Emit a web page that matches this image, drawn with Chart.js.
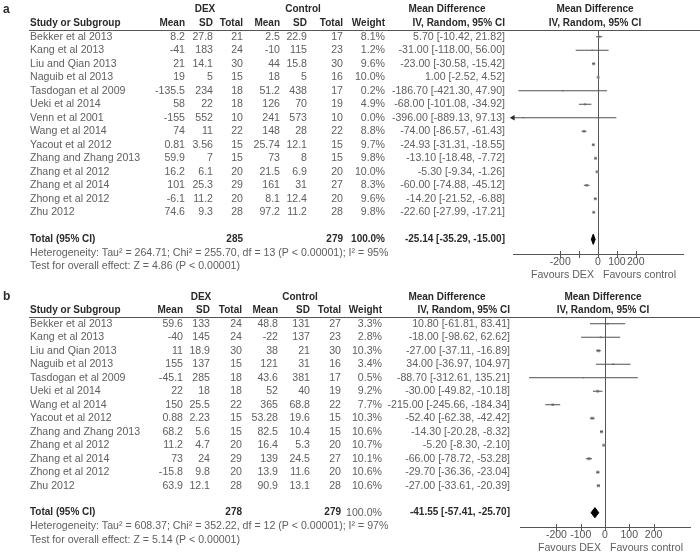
<!DOCTYPE html>
<html>
<head>
<meta charset="utf-8">
<title>Forest plots</title>
<script src="https://cdn.jsdelivr.net/npm/chart.js@4.4.1/dist/chart.umd.min.js"></script>
<style>
  html, body { margin: 0; padding: 0; background: #fff; }
  #wrap { position: relative; width: 700px; height: 554px; }
  canvas { position: absolute; left: 0; }
  #panel-a { top: 0; }
  #panel-b { top: 280px; }
</style>
</head>
<body>
<div id="wrap">
  <canvas id="panel-a" width="700" height="280"></canvas>
  <canvas id="panel-b" width="700" height="274"></canvas>
</div>
<script>
// Panel a data
const studiesA = ['Bekker et al 2013', 'Kang et al 2013', 'Liu and Qian 2013', 'Naguib et al 2013', 'Tasdogan et al 2009', 'Ueki et al 2014', 'Venn et al 2001', 'Wang et al 2014', 'Yacout et al 2012', 'Zhang and Zhang 2013', 'Zhang et al 2012', 'Zhang et al 2014', 'Zhong et al 2012', 'Zhu 2012'];
const dexMeanA = [8.2, -41, 21, 19, -135.5, 58, -155, 74, 0.81, 59.9, 16.2, 101, -6.1, 74.6];
const dexSdA = [27.8, 183, 14.1, 5, 234, 22, 552, 11, 3.56, 7, 6.1, 25.3, 11.2, 9.3];
const dexNA = [21, 24, 30, 15, 18, 18, 10, 22, 15, 15, 20, 29, 20, 28];
const ctlMeanA = [2.5, -10, 44, 18, 51.2, 126, 241, 148, 25.74, 73, 21.5, 161, 8.1, 97.2];
const ctlSdA = [22.9, 115, 15.8, 5, 438, 70, 573, 28, 12.1, 8, 6.9, 31, 12.4, 11.2];
const ctlNA = [17, 23, 30, 16, 17, 19, 10, 22, 15, 15, 20, 27, 20, 28];
const weightA = [8.1, 1.2, 9.6, 10.0, 0.2, 4.9, 0.0, 8.8, 9.7, 9.8, 10.0, 8.3, 9.6, 9.8];
const mdA = [5.70, -31.00, -23.00, 1.00, -186.70, -68.00, -396.00, -74.00, -24.93, -13.10, -5.30, -60.00, -14.20, -22.60];
const loA = [-10.42, -118.00, -30.58, -2.52, -421.30, -101.08, -889.13, -86.57, -31.31, -18.48, -9.34, -74.88, -21.52, -27.99];
const hiA = [21.82, 56.00, -15.42, 4.52, 47.90, -34.92, 97.13, -61.43, -18.55, -7.72, -1.26, -45.12, -6.88, -17.21];
const totalNA = [285, 279];
const totalEffectA = [-25.14, -35.29, -15.00];
const hetA = 'Heterogeneity: Tau\u00b2 = 264.71; Chi\u00b2 = 255.70, df = 13 (P < 0.00001); I\u00b2 = 95%';
const testA = 'Test for overall effect: Z = 4.86 (P < 0.00001)';
const tickValuesA = [-200, -100, 0, 100, 200];
const tickLabelsA = ['-200', '', '0', '100', '200'];

// Panel b data
const studiesB = ['Bekker et al 2013', 'Kang et al 2013', 'Liu and Qian 2013', 'Naguib et al 2013', 'Tasdogan et al 2009', 'Ueki et al 2014', 'Wang et al 2014', 'Yacout et al 2012', 'Zhang and Zhang 2013', 'Zhang et al 2012', 'Zhang et al 2014', 'Zhong et al 2012', 'Zhu 2012'];
const dexMeanB = [59.6, -40, 11, 155, -45.1, 22, 150, 0.88, 68.2, 11.2, 73, -15.8, 63.9];
const dexSdB = [133, 145, 18.9, 137, 285, 18, 25.5, 2.23, 5.6, 4.7, 24, 9.8, 12.1];
const dexNB = [24, 24, 30, 15, 18, 18, 22, 15, 15, 20, 29, 20, 28];
const ctlMeanB = [48.8, -22, 38, 121, 43.6, 52, 365, 53.28, 82.5, 16.4, 139, 13.9, 90.9];
const ctlSdB = [131, 137, 21, 31, 381, 40, 68.8, 19.6, 10.4, 5.3, 24.5, 11.6, 13.1];
const ctlNB = [27, 23, 30, 16, 17, 19, 22, 15, 15, 20, 27, 20, 28];
const weightB = [3.3, 2.8, 10.3, 3.4, 0.5, 9.2, 7.7, 10.3, 10.6, 10.7, 10.1, 10.6, 10.6];
const mdB = [10.80, -18.00, -27.00, 34.00, -88.70, -30.00, -215.00, -52.40, -14.30, -5.20, -66.00, -29.70, -27.00];
const loB = [-61.81, -98.62, -37.11, -36.97, -312.61, -49.82, -245.66, -62.38, -20.28, -8.30, -78.72, -36.36, -33.61];
const hiB = [83.41, 62.62, -16.89, 104.97, 135.21, -10.18, -184.34, -42.42, -8.32, -2.10, -53.28, -23.04, -20.39];
const totalNB = [278, 279];
const totalEffectB = [-41.55, -57.41, -25.70];
const hetB = 'Heterogeneity: Tau\u00b2 = 608.37; Chi\u00b2 = 352.22, df = 12 (P < 0.00001); I\u00b2 = 97%';
const testB = 'Test for overall effect: Z = 5.14 (P < 0.00001)';
const tickValuesB = [-200, -100, 0, 100, 200];
const tickLabelsB = ['-200', '-100', '0', '100', '200'];

const FONT = "'Liberation Sans', Arial, sans-serif";
const TEXT = '#606060';
const DARK = '#2a2a2a';
const LINE = '#555';

/**
 * Write one piece of table text
 */
function text(ctx, s, x, y, align, style) {
  if (style === 'bold') ctx.font = 'bold 10px ' + FONT;
  else if (style === 'letter') ctx.font = 'bold 12px ' + FONT;
  else ctx.font = '10.6px ' + FONT;
  ctx.fillStyle = style ? DARK : TEXT;
  ctx.textAlign = align;
  ctx.textBaseline = 'middle';
  ctx.fillText(s, x, y);
}

const ci = (m, l, h) => `${m.toFixed(2)} [${l.toFixed(2)}, ${h.toFixed(2)}]`;

/**
 * Table text, header rule and axis tick marks drawn around the plot
 */
function tablePlugin(p) {
  return {
    id: 'forestTable',
    afterDraw(chart) {
      const ctx = chart.ctx;
      const xs = chart.scales.x;
      const ys = chart.scales.y;
      const area = chart.chartArea;
      const c = p.cols;
      const rowY = i => ys.getPixelForValue(i);
      ctx.save();

      // headers
      text(ctx, p.letter, 3, rowY(-2), 'left', 'letter');
      text(ctx, 'DEX', c.dexHdr, rowY(-2), 'center', 'bold');
      text(ctx, 'Control', c.ctlHdr, rowY(-2), 'center', 'bold');
      text(ctx, 'Mean Difference', c.mdHdr, rowY(-2), 'center', 'bold');
      text(ctx, 'Mean Difference', c.plotHdr, rowY(-2), 'center', 'bold');
      text(ctx, 'Study or Subgroup', 30, rowY(-1), 'left', 'bold');
      text(ctx, 'Mean', c.dexMean, rowY(-1), 'right', 'bold');
      text(ctx, 'SD', c.dexSd, rowY(-1), 'right', 'bold');
      text(ctx, 'Total', c.dexN, rowY(-1), 'right', 'bold');
      text(ctx, 'Mean', c.ctlMean, rowY(-1), 'right', 'bold');
      text(ctx, 'SD', c.ctlSd, rowY(-1), 'right', 'bold');
      text(ctx, 'Total', c.ctlN, rowY(-1), 'right', 'bold');
      text(ctx, 'Weight', c.weight, rowY(-1), 'right', 'bold');
      text(ctx, 'IV, Random, 95% CI', c.ci, rowY(-1), 'right', 'bold');
      text(ctx, 'IV, Random, 95% CI', c.plotHdr, rowY(-1), 'center', 'bold');

      ctx.strokeStyle = LINE;
      ctx.lineWidth = 1;
      const top = Math.round(area.top) + 0.5;
      ctx.beginPath();
      ctx.moveTo(29, top);
      ctx.lineTo(700, top);
      ctx.stroke();

      // study rows
      p.studies.forEach((name, i) => {
        const y = rowY(i);
        text(ctx, name, 30, y, 'left');
        text(ctx, String(p.dexMean[i]), c.dexMean, y, 'right');
        text(ctx, String(p.dexSd[i]), c.dexSd, y, 'right');
        text(ctx, String(p.dexN[i]), c.dexN, y, 'right');
        text(ctx, String(p.ctlMean[i]), c.ctlMean, y, 'right');
        text(ctx, String(p.ctlSd[i]), c.ctlSd, y, 'right');
        text(ctx, String(p.ctlN[i]), c.ctlN, y, 'right');
        text(ctx, p.weight[i].toFixed(1) + '%', c.weight, y, 'right');
        text(ctx, ci(p.md[i], p.lo[i], p.hi[i]), c.ci, y, 'right');
      });

      // total rows
      const t = p.totalRow;
      const te = p.totalEffect;
      text(ctx, 'Total (95% CI)', 30, rowY(t), 'left', 'bold');
      text(ctx, String(p.totalN[0]), c.dexN, rowY(t), 'right', 'bold');
      text(ctx, String(p.totalN[1]), c.ctlN, rowY(t), 'right', 'bold');
      text(ctx, '100.0%', c.weight, rowY(t), 'right', p.boldWeight ? 'bold' : undefined);
      text(ctx, ci(te[0], te[1], te[2]), c.ci, rowY(t), 'right', 'bold');
      text(ctx, p.het, 30, rowY(t + 1), 'left');
      text(ctx, p.test, 30, rowY(t + 2), 'left');

      // tick marks crossing the axis line
      const base = Math.round(area.bottom) + 0.5;
      ctx.strokeStyle = LINE;
      xs.ticks.forEach(tk => {
        const px = Math.round(xs.getPixelForValue(tk.value)) + 0.5;
        ctx.beginPath();
        ctx.moveTo(px, base - 3.5);
        ctx.lineTo(px, base + 3.5);
        ctx.stroke();
      });

      // favours labels either side of zero
      const zero = xs.getPixelForValue(0);
      text(ctx, 'Favours DEX', zero - 4, area.bottom + 21, 'right');
      text(ctx, 'Favours control', zero + 5, area.bottom + 21, 'left');
      ctx.restore();
    }
  };
}

/**
 * Build one forest plot panel
 */
function buildPanel(canvasId, p) {
  const canvas = document.getElementById(canvasId);
  const datasets = [];

  // confidence interval lines
  p.studies.forEach((name, i) => {
    datasets.push({
      data: [{ x: p.lo[i], y: i }, { x: p.hi[i], y: i }],
      borderColor: '#505050',
      borderWidth: 1,
      pointRadius: 0,
      clip: 0
    });
    if (p.lo[i] < p.xMin) {
      // arrow where the interval runs off the left edge
      datasets.push({
        data: [{ x: p.xMin, y: i }],
        showLine: false,
        pointStyle: 'triangle',
        pointRotation: -90,
        pointRadius: 3.2,
        pointBackgroundColor: '#222',
        pointBorderWidth: 0,
        clip: false
      });
    }
  });

  // study estimates, square sized by weight
  datasets.push({
    data: p.md.map((m, i) => ({ x: m, y: i })),
    showLine: false,
    pointStyle: 'rect',
    pointRadius: p.weight.map(w => (1.3 + 0.17 * w) / Math.SQRT2),
    pointBackgroundColor: '#a0a0a0',
    pointBorderWidth: 0
  });

  // pooled estimate diamond
  const te = p.totalEffect;
  const t = p.totalRow;
  datasets.push({
    data: [
      { x: te[1], y: t }, { x: te[0], y: t - 0.38 },
      { x: te[2], y: t }, { x: te[0], y: t + 0.38 }, { x: te[1], y: t }
    ],
    borderColor: '#000',
    backgroundColor: '#000',
    borderWidth: 1,
    pointRadius: 0,
    fill: 'shape'
  });

  return new Chart(canvas, {
    type: 'line',
    data: { datasets: datasets },
    options: {
      responsive: false,
      animation: false,
      devicePixelRatio: 1,
      events: [],
      layout: { padding: { left: p.area.left, right: canvas.width - p.area.right, top: p.area.top, bottom: 0 } },
      plugins: { legend: { display: false }, tooltip: { enabled: false } },
      scales: {
        x: {
          type: 'linear',
          min: p.xMin,
          max: p.xMax,
          afterFit: axis => { axis.height = canvas.height - p.area.bottom; },
          afterBuildTicks: axis => { axis.ticks = p.tickValues.map(v => ({ value: v })); },
          grid: {
            drawTicks: false,
            lineWidth: 1,
            color: c => (c.tick && c.tick.value === 0 ? LINE : 'rgba(0,0,0,0)')
          },
          border: { display: true, color: LINE, width: 1 },
          ticks: {
            autoSkip: false,
            minRotation: 0,
            maxRotation: 0,
            padding: 2,
            color: '#555',
            font: { family: FONT, size: 10.5 },
            callback: (value, index) => p.tickLabels[index]
          }
        },
        y: {
          type: 'linear',
          display: false,
          reverse: true,
          min: -0.5,
          max: p.yMax
        }
      }
    },
    plugins: [tablePlugin(p)]
  });
}

buildPanel('panel-a', {
  letter: 'a',
  studies: studiesA, dexMean: dexMeanA, dexSd: dexSdA, dexN: dexNA,
  ctlMean: ctlMeanA, ctlSd: ctlSdA, ctlN: ctlNA, weight: weightA,
  md: mdA, lo: loA, hi: hiA, totalN: totalNA, totalEffect: totalEffectA,
  het: hetA, test: testA, tickValues: tickValuesA, tickLabels: tickLabelsA,
  totalRow: 15, boldWeight: true,
  xMin: -450, xMax: 450, yMax: 16.09,
  area: { left: 513, right: 683, top: 30, bottom: 254 },
  cols: { dexMean: 185, dexSd: 213, dexN: 243, ctlMean: 280, ctlSd: 307, ctlN: 343, weight: 385, ci: 505, dexHdr: 205, ctlHdr: 303, mdHdr: 447, plotHdr: 595 }
});

buildPanel('panel-b', {
  letter: 'b',
  studies: studiesB, dexMean: dexMeanB, dexSd: dexSdB, dexN: dexNB,
  ctlMean: ctlMeanB, ctlSd: ctlSdB, ctlN: ctlNB, weight: weightB,
  md: mdB, lo: loB, hi: hiB, totalN: totalNB, totalEffect: totalEffectB,
  het: hetB, test: testB, tickValues: tickValuesB, tickLabels: tickLabelsB,
  totalRow: 14, boldWeight: false,
  xMin: -350, xMax: 350, yMax: 15.06,
  area: { left: 520, right: 690, top: 37, bottom: 247 },
  cols: { dexMean: 183, dexSd: 210, dexN: 242, ctlMean: 278, ctlSd: 310, ctlN: 341, weight: 382, ci: 510, dexHdr: 201, ctlHdr: 300, mdHdr: 447, plotHdr: 603 }
});
</script>
</body>
</html>
